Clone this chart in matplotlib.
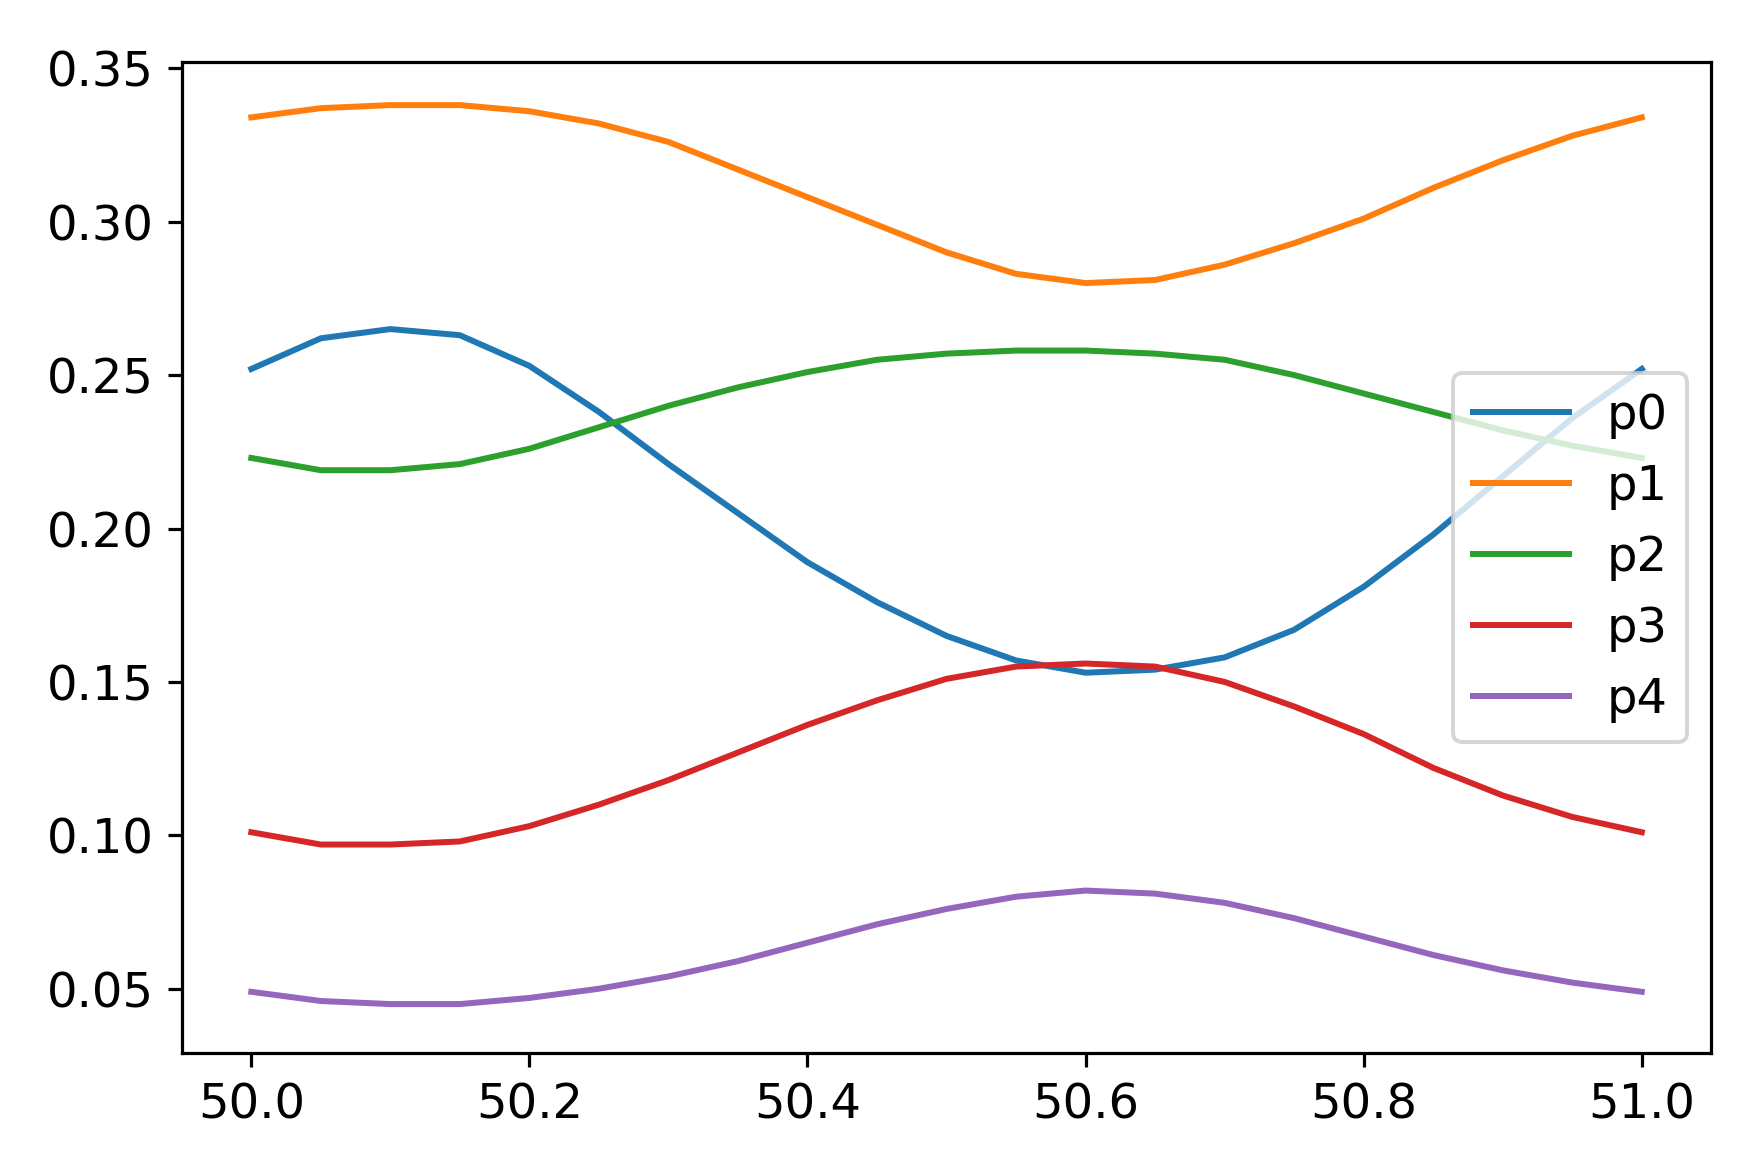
import matplotlib
matplotlib.use("Agg")
import matplotlib.pyplot as plt
import numpy as np

x = np.round(np.arange(50.0, 51.0001, 0.05), 2)
p0 = [.252,.262,.265,.263,.253,.238,.221,.205,.189,.176,.165,.157,.153,.154,.158,.167,.181,.198,.217,.236,.252]
p1 = [.334,.337,.338,.338,.336,.332,.326,.317,.308,.299,.290,.283,.280,.281,.286,.293,.301,.311,.320,.328,.334]
p2 = [.223,.219,.219,.221,.226,.233,.240,.246,.251,.255,.257,.258,.258,.257,.255,.250,.244,.238,.232,.227,.223]
p3 = [.101,.097,.097,.098,.103,.110,.118,.127,.136,.144,.151,.155,.156,.155,.150,.142,.133,.122,.113,.106,.101]
p4 = [.049,.046,.045,.045,.047,.050,.054,.059,.065,.071,.076,.080,.082,.081,.078,.073,.067,.061,.056,.052,.049]
series = {"p0": p0, "p1": p1, "p2": p2, "p3": p3, "p4": p4}

plt.rcParams['font.size'] = 12
fig = plt.figure(figsize=(1748/288, 1151/288), dpi=288)
ax = fig.add_axes([0.104, 0.085, 0.875, 0.861])
for name, vals in series.items():
    ax.plot(x, vals, label=name, lw=1.5)
ax.set_xticks([50.0, 50.2, 50.4, 50.6, 50.8, 51.0])
ax.set_yticks([0.05, 0.10, 0.15, 0.20, 0.25, 0.30, 0.35])
ax.set_ylim(0.029, 0.352)
ax.set_xlim(49.95, 51.05)
ax.legend(loc="center right")
fig.savefig("out.png", dpi=288)
